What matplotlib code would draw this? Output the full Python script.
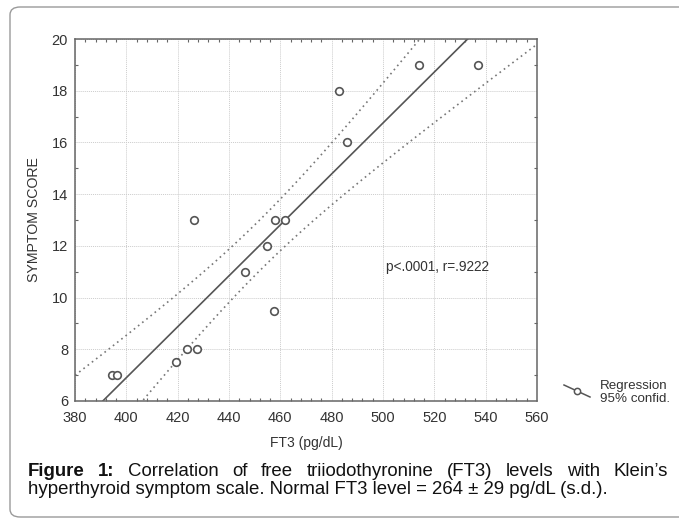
import matplotlib
matplotlib.use("Agg")
import matplotlib.pyplot as plt
import numpy as np
from matplotlib.patches import FancyBboxPatch
from matplotlib.lines import Line2D
from matplotlib.ticker import MultipleLocator

plt.rcParams['font.family'] = ['Liberation Sans', 'DejaVu Sans']

# data
ft3 = [394.4, 396.5, 419.5, 423.5, 427.4, 426.4, 446.4, 454.9, 457.4,
       458.1, 462.0, 483.0, 486.0, 514.0, 537.0]
score = [7, 7, 7.5, 8, 8, 13, 11, 12, 9.5, 13, 13, 18, 16, 19, 19]
x_ticks = [380, 400, 420, 440, 460, 480, 500, 520, 540, 560]
y_ticks = [6, 8, 10, 12, 14, 16, 18, 20]
stat_text = "p<.0001, r=.9222"
caption1 = [("Figure", "bold"), ("1:", "bold"), ("Correlation", "normal"),
            ("of", "normal"), ("free", "normal"), ("triiodothyronine", "normal"),
            ("(FT3)", "normal"), ("levels", "normal"), ("with", "normal"),
            ("Klein\u2019s", "normal")]
caption2 = "hyperthyroid symptom scale. Normal FT3 level = 264 \u00b1 29 pg/dL (s.d.)."

W, H = 679, 520
fig = plt.figure(figsize=(W / 100, H / 100), dpi=100)

# rounded frame round the figure
frame = FancyBboxPatch((10 / W, 3 / H), 700 / W, 510 / H,
                       boxstyle="round,pad=0,rounding_size=0.015",
                       transform=fig.transFigure, fc="none", ec="#9a9a9a",
                       lw=1.0, clip_on=False, zorder=-1)
fig.patches.append(frame)

ax = fig.add_axes([75 / W, 1 - 401 / H, 462 / W, 362 / H])

x = np.array(ft3)
y = np.array(score)
n = len(x)
b, a = np.polyfit(x, y, 1)
res = y - (a + b * x)
s = np.sqrt(np.sum(res ** 2) / (n - 2))
sxx = np.sum((x - x.mean()) ** 2)
t95 = 2.160  # t(0.975, 13)
xx = np.linspace(x_ticks[0], x_ticks[-1], 300)
yy = a + b * xx
hw = t95 * s * np.sqrt(1 / n + (xx - x.mean()) ** 2 / sxx)

ax.plot(xx, yy, color="#555555", lw=1.2)
ax.plot(xx, yy + hw, color="#777777", lw=1.2, ls=(0, (1, 2.2)))
ax.plot(xx, yy - hw, color="#777777", lw=1.2, ls=(0, (1, 2.2)))
ax.scatter(x, y, s=30, facecolors="white", edgecolors="#555555",
           linewidths=1.2, zorder=3)

ax.set_xlim(x_ticks[0], x_ticks[-1])
ax.set_ylim(y_ticks[0], y_ticks[-1])
ax.set_xticks(x_ticks)
ax.set_yticks(y_ticks)
ax.xaxis.set_minor_locator(MultipleLocator(4))
ax.yaxis.set_minor_locator(MultipleLocator(1))
ax.tick_params(which="both", direction="in", top=True, right=True,
               color="#666666")
ax.tick_params(which="major", length=0, labelsize=10.5, labelcolor="#333333")
ax.tick_params(axis="x", which="major", pad=7)
ax.tick_params(axis="y", which="major", pad=5)
ax.tick_params(which="minor", length=2.5, width=0.8)
ax.grid(True, which="major", color="#cccccc", ls=(0, (1, 1)), lw=0.7)
for sp in ax.spines.values():
    sp.set_color("#666666")
    sp.set_linewidth(1.1)

ax.set_xlabel("FT3 (pg/dL)", fontsize=10, color="#333333", labelpad=8)
ax.set_ylabel("SYMPTOM SCORE", fontsize=10.2, color="#333333", labelpad=8)
ax.text(501, 11.2, stat_text, fontsize=9.8, color="#333333", va="center")

# legend glyph and text
fig.add_artist(Line2D([564 / W, 590 / W], [1 - 385 / H, 1 - 397 / H],
                      color="#555555", lw=1.1, transform=fig.transFigure))
fig.add_artist(Line2D([577 / W], [1 - 391 / H], marker="o", ms=4.5,
                      mfc="white", mec="#555555", mew=1.1, ls="",
                      transform=fig.transFigure))
fig.text(600 / W, 1 - 386 / H, "Regression", fontsize=9.6, color="#333333",
         va="center")
fig.text(600 / W, 1 - 399 / H, "95% confid.", fontsize=9.6, color="#333333",
         va="center")

# justified caption, first line
fig.canvas.draw()
r = fig.canvas.get_renderer()
arts = []
for word, wgt in caption1:
    t = fig.text(0, 1 - 472 / H, word, fontsize=13.4, fontweight=wgt,
                 va="center", color="#111111")
    arts.append(t)
widths = [t.get_window_extent(r).width for t in arts]
left, right = 28, 668
gap = (right - left - sum(widths)) / (len(arts) - 1)
pos = left
for t, w in zip(arts, widths):
    t.set_x(pos / W)
    pos += w + gap
fig.text(28 / W, 1 - 489 / H, caption2, fontsize=13.4, va="center",
         color="#111111")

fig.savefig("out.png", dpi=100)
